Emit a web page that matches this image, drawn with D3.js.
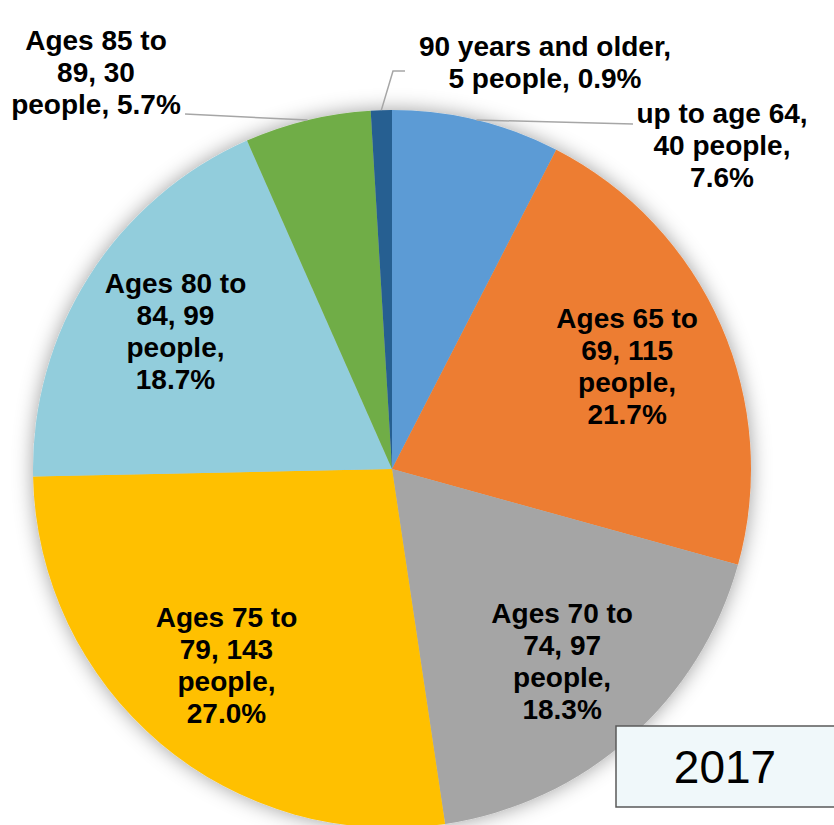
<!DOCTYPE html>
<html>
<head>
<meta charset="utf-8">
<script src="https://cdn.jsdelivr.net/npm/d3@7"></script>
<style>
  html, body { margin: 0; padding: 0; background: #ffffff; }
  svg { display: block; }
  text { font-family: "Liberation Sans", Arial, Helvetica, sans-serif; }
</style>
</head>
<body>
<svg id="chart" width="834" height="825"></svg>
<script>
// ---- data ----
const categories = ["up to age 64", "Ages 65 to 69", "Ages 70 to 74", "Ages 75 to 79", "Ages 80 to 84", "Ages 85 to 89", "90 years and older"];
const values = [40, 115, 97, 143, 99, 30, 5];
const percents = ["7.6%", "21.7%", "18.3%", "27.0%", "18.7%", "5.7%", "0.9%"];
const labelLines = [
  ["up to age 64,", "40 people,", "7.6%"],
  ["Ages 65 to", "69, 115", "people,", "21.7%"],
  ["Ages 70 to", "74, 97", "people,", "18.3%"],
  ["Ages 75 to", "79, 143", "people,", "27.0%"],
  ["Ages 80 to", "84, 99", "people,", "18.7%"],
  ["Ages 85 to", "89, 30", "people, 5.7%"],
  ["90 years and older,", "5 people, 0.9%"]
];
const yearLabel = "2017";

// ---- styles / layout ----
const colors = ["#5B9BD5", "#ED7D31", "#A5A5A5", "#FFC000", "#92CDDC", "#70AD47", "#255E91"];
const W = 834, H = 825;
const cx = 392, cy = 469, R = 359;
const fontSize = 28, lineH = 32;
// outside labels: centre x, first baseline y, leader path end points
const outside = {
  0: { x: 722, y: 123, leader: [[633, 124]] },
  5: { x: 96, y: 50, leader: [[185, 114]] },
  6: { x: 545, y: 56, leader: [[393, 71], [405, 71]] }
};

const svg = d3.select("#chart");
const defs = svg.append("defs");
const f = defs.append("filter").attr("id", "shadow")
  .attr("x", "-20%").attr("y", "-20%").attr("width", "140%").attr("height", "140%");
f.append("feDropShadow").attr("dx", 0).attr("dy", 0).attr("stdDeviation", 10)
  .attr("flood-color", "#000").attr("flood-opacity", 0.38);

const pie = d3.pie().sort(null).value(d => d)(values);
const arc = d3.arc().innerRadius(0).outerRadius(R);
const labelArc = d3.arc().innerRadius(R * 0.715).outerRadius(R * 0.715);
const edgeArc = d3.arc().innerRadius(R).outerRadius(R);

const g = svg.append("g").attr("transform", `translate(${cx},${cy})`);

g.append("g").attr("filter", "url(#shadow)")
  .selectAll("path").data(pie).join("path")
  .attr("d", arc)
  .attr("fill", (d, i) => colors[i]);

// leader lines
Object.keys(outside).forEach(k => {
  const i = +k;
  const p = edgeArc.centroid(pie[i]);
  const pts = [[p[0] + cx, p[1] + cy]].concat(outside[i].leader);
  svg.append("path")
    .attr("d", d3.line()(pts))
    .attr("fill", "none")
    .attr("stroke", "#A6A6A6")
    .attr("stroke-width", 1.5);
});

// labels
pie.forEach((d, i) => {
  const lines = labelLines[i];
  let x, y0;
  if (outside[i]) {
    x = outside[i].x; y0 = outside[i].y;
  } else {
    const c = labelArc.centroid(d);
    x = c[0] + cx;
    const blockH = (lines.length - 1) * lineH + fontSize * 0.72;
    y0 = c[1] + cy - blockH / 2 + fontSize * 0.72;
  }
  const t = svg.append("text")
    .attr("text-anchor", "middle")
    .attr("font-size", fontSize)
    .attr("font-weight", "bold")
    .attr("fill", "#000");
  lines.forEach((ln, j) => {
    t.append("tspan").attr("x", x).attr("y", y0 + j * lineH).text(ln);
  });
});

// year box
svg.append("rect")
  .attr("x", 616).attr("y", 726).attr("width", 230).attr("height", 81)
  .attr("fill", "#F0F8FA").attr("stroke", "#595959").attr("stroke-width", 1.5);
svg.append("text")
  .attr("x", 725).attr("y", 783)
  .attr("text-anchor", "middle")
  .attr("font-size", 46)
  .attr("fill", "#000")
  .text(yearLabel);
</script>
</body>
</html>
